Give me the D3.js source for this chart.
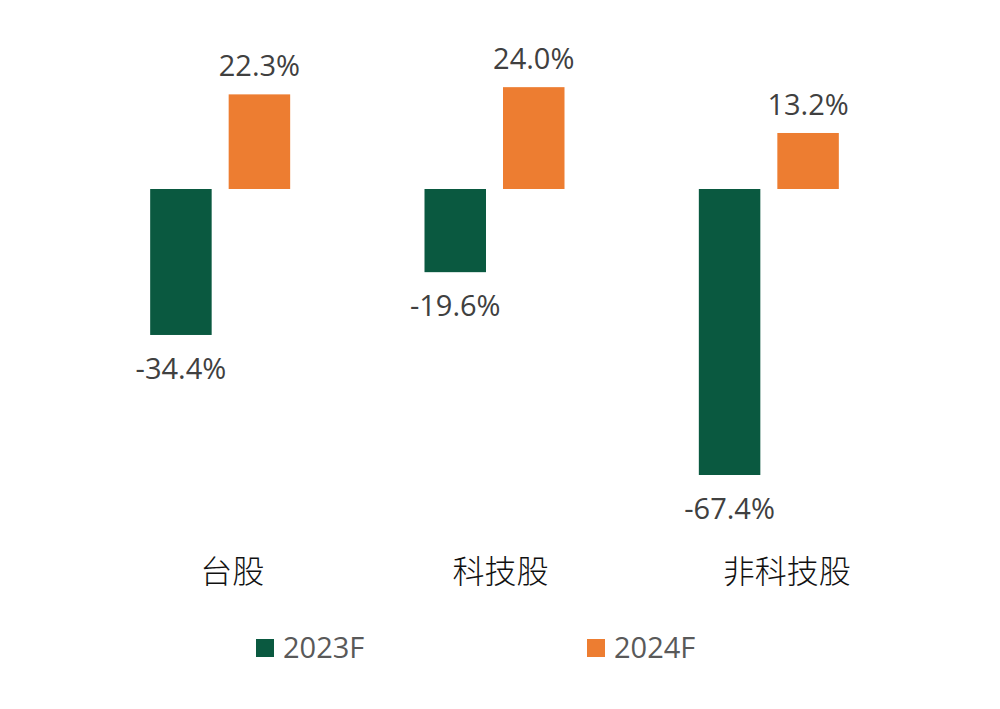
<!DOCTYPE html>
<html>
<head>
<meta charset="utf-8">
<script src="https://cdn.jsdelivr.net/npm/d3@7"></script>
<style>
  body { margin: 0; background: #fff; }
  svg { display: block; }
</style>
</head>
<body>
<script>
// data
var categories = ["台股", "科技股", "非科技股"];
var seriesNames = ["2023F", "2024F"];
var values2023 = [-34.4, -19.6, -67.4];
var values2024 = [22.3, 24.0, 13.2];
var colors = ["#0a5940", "#ed7d31"];

var width = 1000, height = 709;

var svg = d3.select("body").append("svg")
    .attr("width", width)
    .attr("height", height);

// x: groups then series inside each group
var x0 = d3.scaleBand().domain(categories).range([83, 906]).padding(0);
var x1 = d3.scaleBand().domain(seriesNames)
    .range([x0.bandwidth() / 2 - 70, x0.bandwidth() / 2 + 70])
    .paddingInner(0.2166);

// y: 0 sits at 188, -67.4 at 474
var y = d3.scaleLinear().domain([-67.4, 0]).range([475, 189]);

var rows = [];
categories.forEach(function(c, i) {
  rows.push({ cat: c, s: seriesNames[0], v: values2023[i], col: colors[0] });
  rows.push({ cat: c, s: seriesNames[1], v: values2024[i], col: colors[1] });
});

var g = svg.append("g");

g.selectAll("rect.bar")
  .data(rows)
  .enter().append("rect")
  .attr("class", "bar")
  .attr("x", function(d) { return x0(d.cat) + x1(d.s); })
  .attr("width", x1.bandwidth())
  .attr("y", function(d) { return y(Math.max(0, d.v)); })
  .attr("height", function(d) { return Math.abs(y(d.v) - y(0)); })
  .attr("fill", function(d) { return d.col; });

// value labels
g.selectAll("text.val")
  .data(rows)
  .enter().append("text")
  .attr("class", "val")
  .attr("x", function(d) { return x0(d.cat) + x1(d.s) + x1.bandwidth() / 2; })
  .attr("y", function(d) { return d.v >= 0 ? y(d.v) - 18 : y(d.v) + 44; })
  .attr("text-anchor", "middle")
  .attr("font-family", "'Open Sans', 'Noto Sans', sans-serif")
  .attr("font-size", 29)
  .attr("fill", "#404040")
  .text(function(d) { return d.v.toFixed(1) + "%"; });

// category labels
var catOffset = [12, 6, 18];
g.selectAll("text.cat")
  .data(categories)
  .enter().append("text")
  .attr("class", "cat")
  .attr("x", function(d, i) { return x0(d) + x0.bandwidth() / 2 + catOffset[i]; })
  .attr("y", 583)
  .attr("text-anchor", "middle")
  .attr("font-family", "'Noto Sans CJK TC', 'Noto Sans CJK SC', sans-serif")
  .attr("font-weight", 300)
  .attr("font-size", 32)
  .attr("fill", "#111")
  .text(function(d) { return d; });

// legend
var legendX = [256, 587];
var lg = svg.selectAll("g.legend")
  .data(seriesNames)
  .enter().append("g")
  .attr("class", "legend")
  .attr("transform", function(d, i) { return "translate(" + legendX[i] + ",639)"; });

lg.append("rect")
  .attr("width", 18)
  .attr("height", 18)
  .attr("fill", function(d, i) { return colors[i]; });

lg.append("text")
  .attr("x", 27)
  .attr("y", 19)
  .attr("font-family", "'Open Sans', 'Noto Sans', sans-serif")
  .attr("font-size", 29)
  .attr("fill", "#595959")
  .text(function(d) { return d; });
</script>
</body>
</html>
